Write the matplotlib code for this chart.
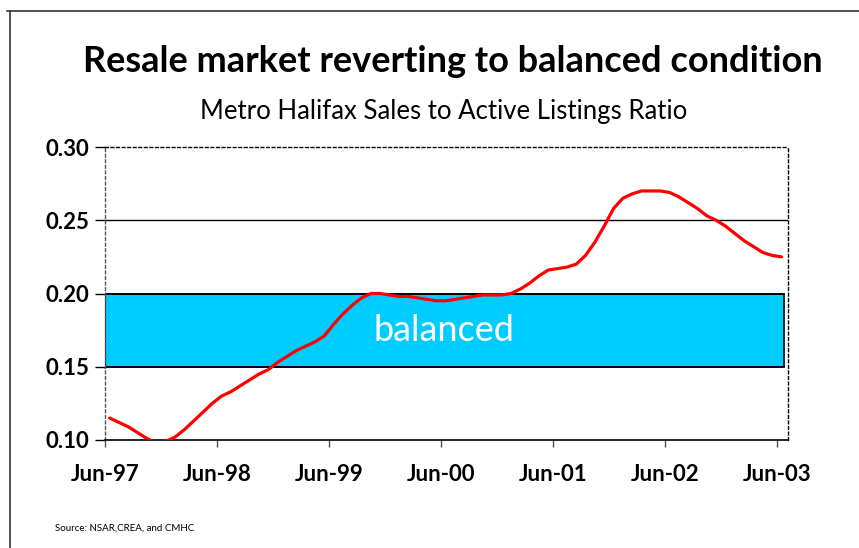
import numpy as np
import matplotlib.pyplot as plt
from matplotlib.lines import Line2D

# data: monthly sales-to-active-listings ratio, Jun-97 .. Jun-03
ratio = [0.115, 0.112, 0.109, 0.105, 0.101, 0.098, 0.099, 0.102, 0.107, 0.113,
         0.119, 0.125, 0.130, 0.133, 0.137, 0.141, 0.145, 0.148, 0.153, 0.157,
         0.161, 0.164, 0.167, 0.171, 0.179, 0.186, 0.192, 0.197, 0.200, 0.200,
         0.199, 0.198, 0.198, 0.197, 0.196, 0.195, 0.195, 0.196, 0.197, 0.198,
         0.199, 0.199, 0.199, 0.200, 0.203, 0.207, 0.212, 0.216, 0.217, 0.218,
         0.220, 0.226, 0.235, 0.246, 0.258, 0.265, 0.268, 0.270, 0.270, 0.270,
         0.269, 0.266, 0.262, 0.258, 0.253, 0.250, 0.246, 0.241, 0.236, 0.232,
         0.228, 0.226, 0.225]
tick_labels = ["Jun-97", "Jun-98", "Jun-99", "Jun-00", "Jun-01", "Jun-02", "Jun-03"]
band_low, band_high = 0.15, 0.20
y_ticks = [0.10, 0.15, 0.20, 0.25, 0.30]

plt.rcParams['font.family'] = ['Lato', 'DejaVu Sans']

fig = plt.figure(figsize=(8.59, 5.48), dpi=100)
ax = fig.add_axes([105/859, 1 - 440/548, (788 - 105)/859, (440 - 147)/548])

n = len(ratio)
x = np.arange(n) + 0.5

# balanced band
ax.fill_between([0, n - 0.2], band_low, band_high, color='#00CCFF',
                edgecolor='black', linewidth=1.2, zorder=1)
ax.plot([0, n - 0.2], [band_low, band_low], color='black', lw=1.2, zorder=2)
ax.plot([0, n - 0.2], [band_high, band_high], color='black', lw=1.2, zorder=2)
ax.axhline(0.25, color='black', lw=1.0, zorder=1)
ax.text(n * 0.498, 0.175, "balanced", color='white', fontsize=26,
        ha='center', va='center', zorder=3)

ax.plot(x, ratio, color='#FF0000', lw=2.3, zorder=4, solid_capstyle='round')

ax.set_xlim(0, n + 0.2)
ax.set_ylim(0.10, 0.30)
ax.set_xticks(np.arange(0, n, 12))
ax.set_xticklabels(tick_labels, fontsize=16, fontweight='bold')
ax.set_yticks(y_ticks)
ax.set_yticklabels([f"{v:.2f}" for v in y_ticks], fontsize=16, fontweight='bold')
ax.tick_params(axis='x', length=5, width=1, color='#555555', pad=12)
ax.tick_params(axis='y', length=7, width=1, color='black', pad=4)

for side in ['left', 'top', 'right']:
    ax.spines[side].set_linestyle((0, (2, 2)))
    ax.spines[side].set_linewidth(1)
    ax.spines[side].set_color('black')
ax.spines['left'].set_color('#555555')
ax.spines['bottom'].set_linewidth(1.2)

fig.text(453/859, 1 - 62/548, "Resale market reverting to balanced condition",
         ha='center', va='center', fontsize=26, fontweight='bold')
fig.text(444/859, 1 - 112/548, "Metro Halifax Sales to Active Listings Ratio",
         ha='center', va='center', fontsize=18.5)
fig.text(55/859, 1 - 528/548, "Source: NSAR,CREA, and CMHC",
         ha='left', va='center', fontsize=7)

# outer frame
fig.add_artist(Line2D([7/859, 1], [1 - 11/548, 1 - 11/548], color='#333333', lw=1.2))
fig.add_artist(Line2D([10/859, 10/859], [0, 1 - 11/548], color='#333333', lw=1.2))

fig.savefig("out.png", dpi=100)
